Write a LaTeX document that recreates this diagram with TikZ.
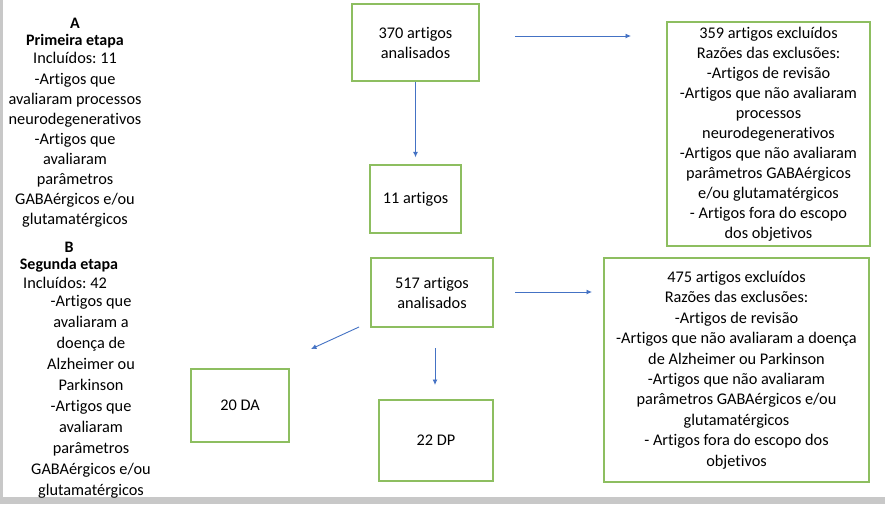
\documentclass[tikz,border=0pt]{standalone}
\usepackage{fontspec}
\setmainfont{Carlito}[Ligatures=NoCommon]
\usetikzlibrary{arrows.meta}
\definecolor{boxgreen}{RGB}{141,190,96}
\definecolor{arrblue}{RGB}{68,114,196}
\definecolor{framegray}{RGB}{200,200,200}
\frenchspacing
\begin{document}
\begin{tikzpicture}[x=1pt,y=-1pt,
  box/.style={draw=boxgreen, line width=1.3pt, inner sep=0pt, align=center, font=\fontsize{16.3}{20}\selectfont},
  arr/.style={draw=arrblue, line width=0.9pt, -{Latex[length=5.5pt,width=5pt]}},
  txt/.style={align=center, inner sep=0pt, font=\fontsize{16.3}{20}\selectfont},
  head/.style={align=center, inner sep=0pt, font=\bfseries\fontsize{16}{17}\selectfont}]
\useasboundingbox (0,0) rectangle (885,504);
\fill[white] (0,0) rectangle (885,504);
\fill[framegray] (0,0) rectangle (3,504);
\fill[framegray] (0,497) rectangle (885,504);

% boxes
\node[box, minimum width=127pt, minimum height=77pt] (b370) at (415.5,42.5) {370 artigos\\analisados};
\node[box, minimum width=91pt, minimum height=68pt] (b11) at (415.5,199) {11 artigos};
\node[box, minimum width=203pt, minimum height=224pt] (b359) at (768.5,134) {359 artigos excluídos\\Razões das exclusões:\\-Artigos de revisão\\-Artigos que não avaliaram\\processos\\neurodegenerativos\\-Artigos que não avaliaram\\parâmetros GABAérgicos\\e/ou glutamatérgicos\\- Artigos fora do escopo\\dos objetivos};
\node[box, minimum width=122pt, minimum height=69pt] (b517) at (432,292.5) {517 artigos\\analisados};
\node[box, minimum width=265pt, minimum height=224pt, font=\fontsize{16.3}{20.4}\selectfont] (b475) at (736.5,370) {475 artigos excluídos\\Razões das exclusões:\\-Artigos de revisão\\-Artigos que não avaliaram a doença\\de Alzheimer ou Parkinson\\-Artigos que não avaliaram\\parâmetros GABAérgicos e/ou\\glutamatérgicos\\- Artigos fora do escopo dos\\objetivos};
\node[box, minimum width=98pt, minimum height=73pt] (bda) at (240,405.5) {20 DA};
\node[box, minimum width=114pt, minimum height=81pt] (bdp) at (436,440.5) {22 DP};

% left texts
\begin{scope}
\clip (0,0) rectangle (200,226);
\node[head] (ahead) at (75,33) {A\\Primeira etapa};
\node[txt] (ainc) at (75,58) {Incluídos: 11};
\node[txt] (abody) at (75,150) {-Artigos que\\avaliaram processos\\neurodegenerativos\\-Artigos que\\avaliaram\\parâmetros\\GABAérgicos e/ou\\glutamatérgicos};
\end{scope}
\begin{scope}
\clip (3,230) rectangle (200,497);
\node[head] (bhead) at (69,257) {B\\Segunda etapa};
\node[txt] (binc) at (65,283) {Incluídos: 42};
\node[txt, font=\fontsize{16.3}{21}\selectfont] (bbody) at (91,397) {-Artigos que\\avaliaram a\\doença de\\Alzheimer ou\\Parkinson\\-Artigos que\\avaliaram\\parâmetros\\GABAérgicos e/ou\\glutamatérgicos};
\end{scope}

% connectors
\coordinate (r1s) at (515,36);
\coordinate (r1e) at (631,36);
\draw[arr] (r1s) -- (r1e);
\draw[arr, shorten >=7pt] (b370.south) -- (b11.north);
\coordinate (r2s) at (515,292);
\coordinate (r2e) at (592,292);
\draw[arr] (r2s) -- (r2e);
\coordinate (dgs) at (359,327);
\coordinate (dge) at (311,349);
\draw[arr] (dgs) -- (dge);
\coordinate (dps) at (435,348);
\coordinate (dpe) at (435,385);
\draw[arr] (dps) -- (dpe);
\end{tikzpicture}
\end{document}
